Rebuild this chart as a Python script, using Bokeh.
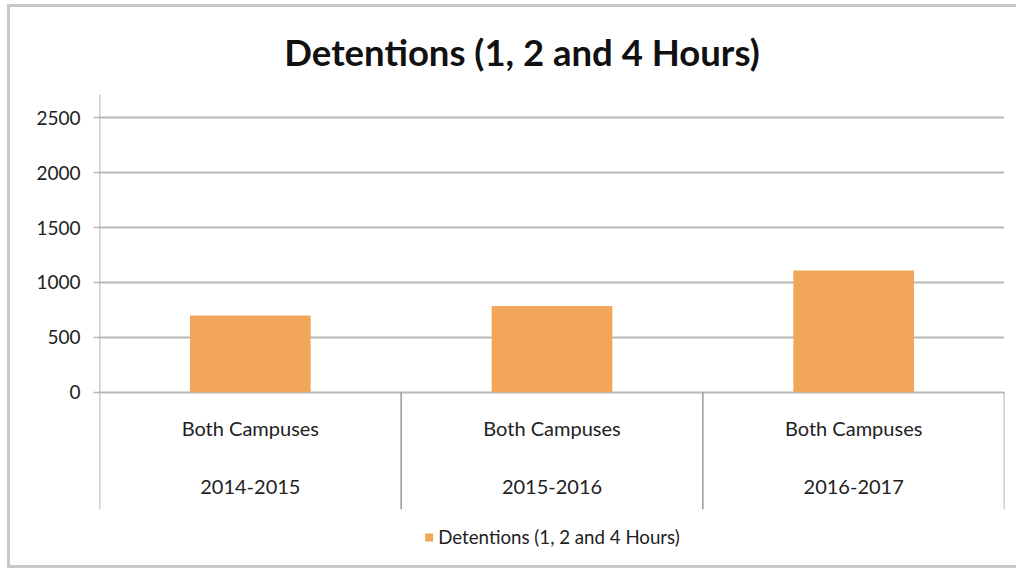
from bokeh.plotting import figure
from bokeh.models import Range1d, FixedTicker, Legend, LegendItem
from bokeh.core.properties import value
from bokeh.embed import file_html
from bokeh.resources import INLINE
import numpy as np

title_text = "Detentions (1, 2 and 4 Hours)"
series_name = "Detentions (1, 2 and 4 Hours)"
group_label = "Both Campuses"
years = ["2014-2015", "2015-2016", "2016-2017"]
detentions = [700, 785, 1110]
y_ticks = [0, 500, 1000, 1500, 2000, 2500]

FONT = "Lato"
BAR = "#F2A65A"
GRID = "#B8B8B8"
LINE = "#999999"
FRAME = "#C8C8C8"

y_start, y_end = -1625, 3561
axis_top = 2713
sep_bottom = -1067
n = len(years)
centers = np.arange(n) + 0.5

p = figure(width=1016, height=571, output_backend="svg", toolbar_location=None,
           x_range=Range1d(0, n), y_range=Range1d(y_start, y_end),
           min_border_left=99, min_border_right=12, min_border_top=1, min_border_bottom=1)
p.border_fill_color = None
p.background_fill_color = None
p.styles = {"box-shadow": (f"inset 7px 0 0 0 #fff, inset 0 4px 0 0 #fff, inset 0 -3px 0 0 #fff, "
                           f"inset 10px 0 0 0 {FRAME}, inset 0 7px 0 0 {FRAME}, inset 0 -6px 0 0 {FRAME}")}
p.title.visible = False

p.outline_line_color = None
p.xaxis.visible = False
p.xgrid.visible = False

yax = p.yaxis[0]
yax.ticker = FixedTicker(ticks=y_ticks)
yax.axis_line_color = None
yax.major_tick_line_color = GRID
yax.major_tick_line_width = 1.5
yax.major_tick_out = 6
yax.major_tick_in = 0
yax.minor_tick_line_color = None
yax.major_label_text_font = FONT
yax.major_label_text_font_size = "19px"
yax.major_label_text_color = "#222222"
yax.major_label_standoff = 13

p.ygrid.ticker = FixedTicker(ticks=y_ticks)
p.ygrid.grid_line_color = GRID
p.ygrid.grid_line_width = 2

bars = p.vbar(x=centers, top=detentions, width=0.4, bottom=0,
              fill_color=BAR, line_color=None)

# value axis line (left edge, down through the category area)
p.segment(x0=[0], y0=[sep_bottom], x1=[0], y1=[axis_top], line_color=LINE, line_width=1.5)
# category separators below the zero line
p.segment(x0=np.arange(1, n + 1), y0=[0] * n, x1=np.arange(1, n + 1), y1=[sep_bottom] * n,
          line_color=LINE, line_width=1.5)

# chart title, centred on the whole chart
p.text(x=[n / 2], y=[axis_top], text=[title_text], x_offset=-30, y_offset=-43,
       text_align="center", text_baseline="middle", text_font=value(FONT),
       text_font_style="bold", text_font_size="36.5px", text_color="#111111")

p.text(x=centers, y=[0] * n, text=[group_label] * n, y_offset=36,
       text_align="center", text_baseline="middle", text_font=value(FONT),
       text_font_size="20px", text_color="#222222")
p.text(x=centers, y=[0] * n, text=years, y_offset=95,
       text_align="center", text_baseline="middle", text_font=value(FONT),
       text_font_size="20px", text_color="#222222")

legend = Legend(items=[LegendItem(label=series_name, renderers=[bars])],
                location="bottom_center", orientation="horizontal",
                glyph_width=10, glyph_height=10, label_text_font=FONT,
                label_text_font_size="18.7px", label_text_color="#222222",
                border_line_color=None, background_fill_alpha=0,
                padding=4, margin=22, spacing=4, label_standoff=5)
p.add_layout(legend)

open("out.html", "w").write(file_html(p, INLINE))
